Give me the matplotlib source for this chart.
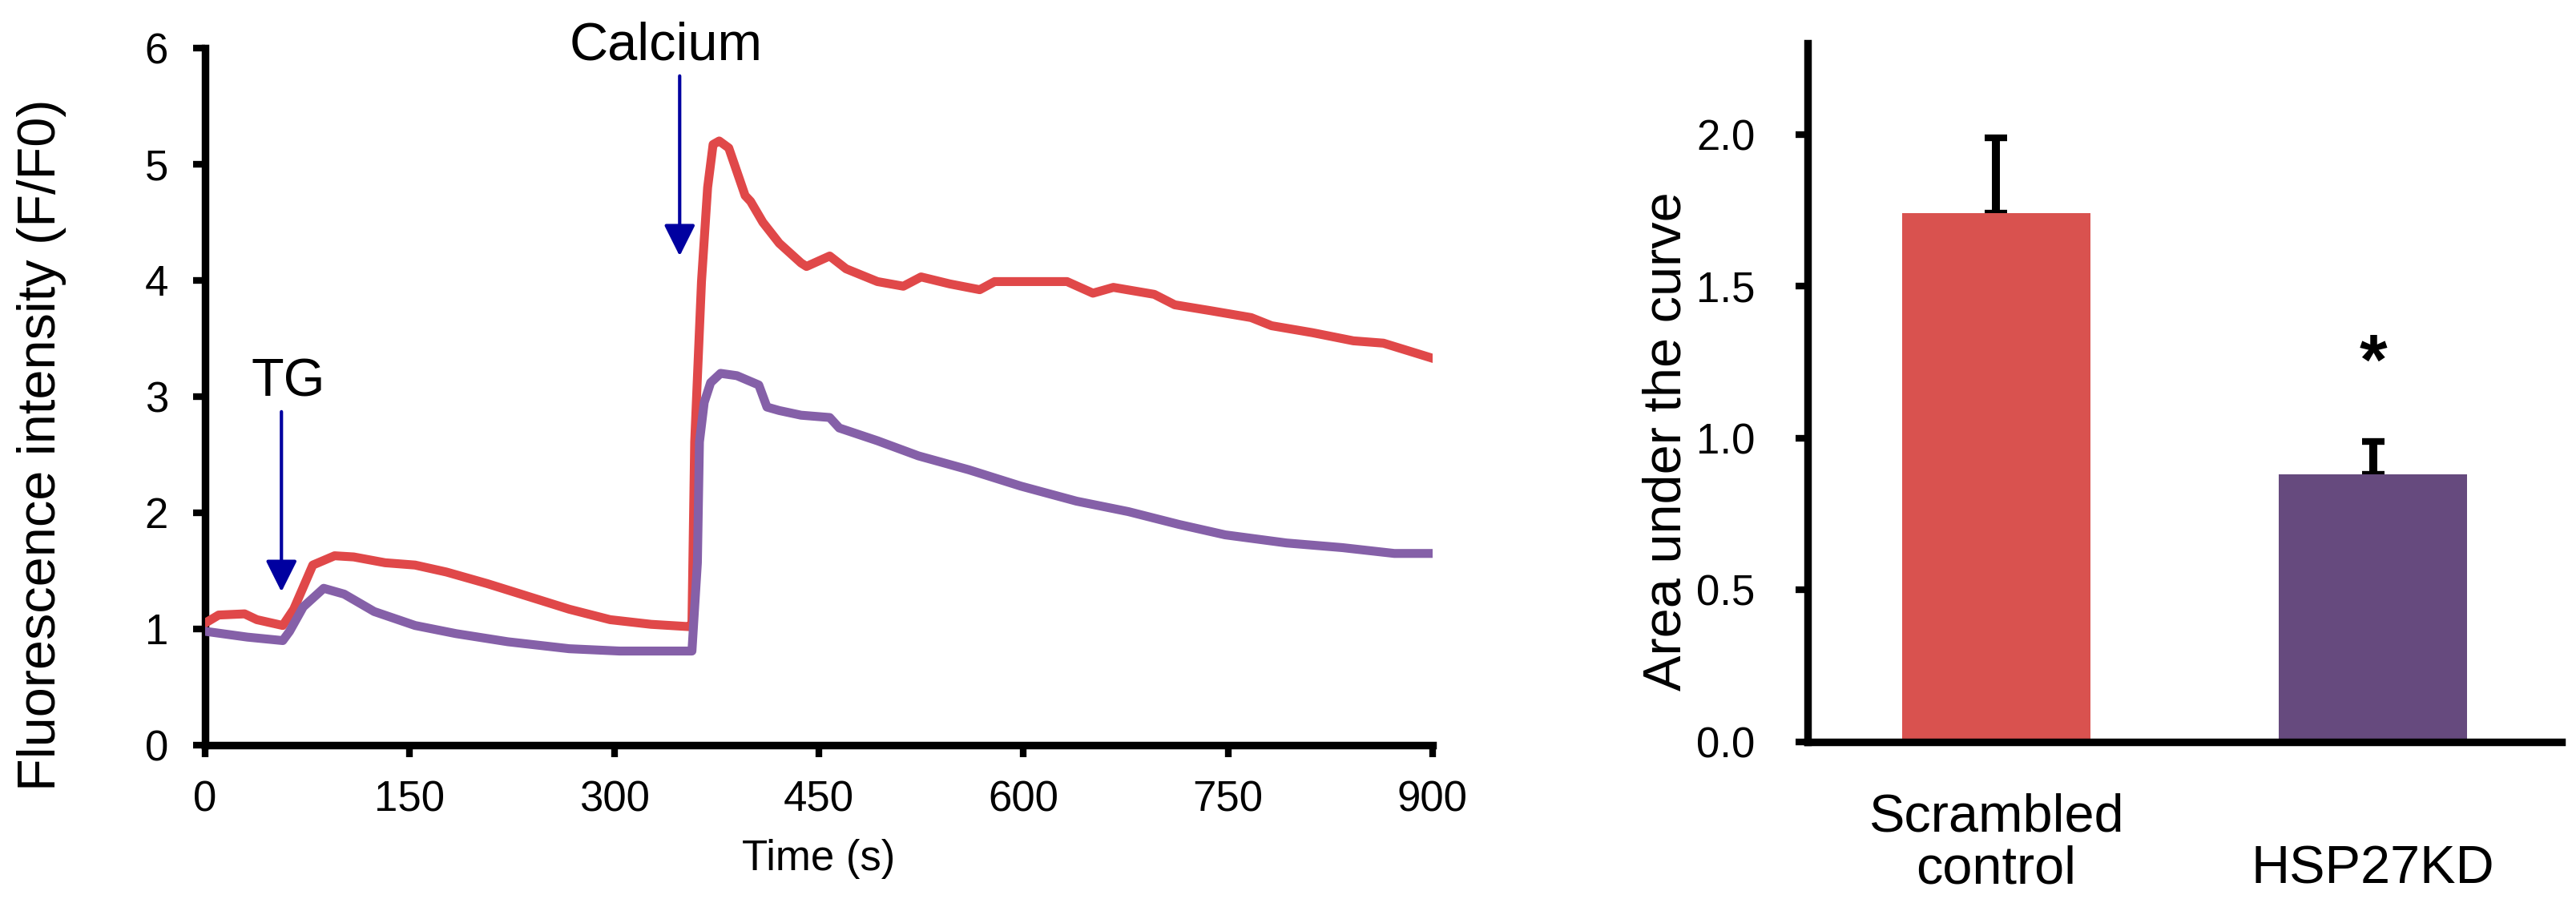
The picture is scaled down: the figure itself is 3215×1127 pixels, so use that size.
import matplotlib
matplotlib.use("Agg")
import matplotlib.pyplot as plt

plt.rcParams['font.family'] = ['Liberation Sans', 'DejaVu Sans']

# ---- time course data ----
time_scr = [0, 10, 29, 38, 57, 65, 79, 95, 109, 132, 154, 177, 207, 237, 267, 297, 327, 355, 357,
            359, 364, 368.5, 372.5, 377, 384, 396, 400, 409, 421, 437, 441, 458, 470, 493, 512, 525,
            546, 568, 579, 632, 651, 666, 696, 711, 737, 767, 782, 812, 842, 864, 900]
f_scr = [1.05, 1.12, 1.13, 1.08, 1.03, 1.17, 1.55, 1.63, 1.62, 1.57, 1.55, 1.49, 1.39, 1.28, 1.17,
         1.08, 1.04, 1.02, 1.05, 2.61, 3.99, 4.80, 5.17, 5.20, 5.14, 4.73, 4.68, 4.50, 4.32, 4.15,
         4.12, 4.21, 4.10, 3.99, 3.95, 4.03, 3.97, 3.92, 3.99, 3.99, 3.89, 3.94, 3.88, 3.79, 3.74,
         3.68, 3.61, 3.55, 3.48, 3.46, 3.33]

time_kd = [0, 31, 57, 62, 72, 87, 102, 124, 154, 184, 222, 267, 304, 357, 361, 362.5, 366, 370.7,
           378, 390, 406, 412, 421, 437, 458, 465, 493, 523, 560, 598, 639, 677, 714, 748, 793,
           834, 872, 900]
f_kd = [0.98, 0.93, 0.90, 0.98, 1.19, 1.35, 1.30, 1.15, 1.03, 0.96, 0.89, 0.83, 0.81, 0.81, 1.57,
        2.61, 2.95, 3.12, 3.20, 3.18, 3.10, 2.91, 2.88, 2.84, 2.82, 2.73, 2.62, 2.49, 2.37, 2.23,
        2.10, 2.01, 1.90, 1.81, 1.74, 1.70, 1.65, 1.65]

x_ticks = [0, 150, 300, 450, 600, 750, 900]
y_ticks_left = [0, 1, 2, 3, 4, 5, 6]

# annotations: (label, time, arrow start, arrow tip, text baseline y)
annot_labels = ["TG", "Calcium"]
annot_time = [56, 348]
annot_text_time = [61, 338]
annot_start = [2.87, 5.76]
annot_tip = [1.32, 4.21]
annot_text_y = [3.0, 5.90]

# ---- bar data ----
groups = ["Scrambled\ncontrol", "HSP27KD"]
auc = [1.74, 0.88]
auc_err = [0.25, 0.11]
y_ticks_right = [0.0, 0.5, 1.0, 1.5, 2.0]
sig_marks = ["", "*"]
sig_y = [None, 1.24]

RED_LINE = "#E04849"
PUR_LINE = "#8560A8"
RED_BAR = "#D9524F"
PUR_BAR = "#664A7E"
ARROW = "#0000A0"

fig = plt.figure(figsize=(3215 / 200, 1127 / 200), dpi=200)

# ---------------- left panel ----------------
ax1 = fig.add_axes([0.0796, 0.1748, 0.4765, 0.772])
ax1.plot(time_scr, f_scr, color=RED_LINE, lw=4.0, solid_joinstyle='round', zorder=3)
ax1.plot(time_kd, f_kd, color=PUR_LINE, lw=4.0, solid_joinstyle='round', zorder=3)
ax1.set_xlim(0, 900)
ax1.set_ylim(0, 6)
ax1.set_xticks(x_ticks)
ax1.set_yticks(y_ticks_left)
for s in ['top', 'right']:
    ax1.spines[s].set_visible(False)
for s in ['left', 'bottom']:
    ax1.spines[s].set_linewidth(3.4)
ax1.tick_params(axis='both', direction='out', length=5.5, width=3.0, labelsize=19)
ax1.tick_params(axis='y', pad=11)
ax1.tick_params(axis='x', pad=10)
ax1.set_xlabel("Time (s)", fontsize=19)
ax1.xaxis.set_label_coords(0.5, -0.135)
ax1.set_ylabel("Fluorescence intensity (F/F0)", fontsize=24)
ax1.yaxis.set_label_coords(-0.113, 0.431)

for lab, t, tt, y0, y1, ty in zip(annot_labels, annot_time, annot_text_time,
                                  annot_start, annot_tip, annot_text_y):
    ax1.annotate("", xy=(t, y1), xytext=(t, y0),
                 arrowprops=dict(arrowstyle='-|>', color=ARROW, lw=1.5,
                                 mutation_scale=30, shrinkA=0, shrinkB=0),
                 annotation_clip=False)
    ax1.text(tt, ty, lab, fontsize=24, ha='center', va='baseline', clip_on=False)

# ---------------- right panel ----------------
ax2 = fig.add_axes([0.7017, 0.1783, 0.2927, 0.7737])
xpos = list(range(len(groups)))
ax2.bar(xpos, auc, width=0.5, color=[RED_BAR, PUR_BAR], zorder=2)
ax2.errorbar(xpos, auc, yerr=[[0] * len(auc_err), auc_err], fmt='none',
             ecolor='black', elinewidth=3.6, capsize=5, capthick=3.0, zorder=1)
ax2.set_xlim(-0.5, 1.5)
ax2.set_ylim(0, 2.3)
ax2.set_yticks(y_ticks_right)
ax2.set_yticklabels([f"{v:.1f}" for v in y_ticks_right])
ax2.set_xticks([])
for s in ['top', 'right']:
    ax2.spines[s].set_visible(False)
for s in ['left', 'bottom']:
    ax2.spines[s].set_linewidth(3.4)
ax2.tick_params(axis='y', direction='out', length=5.5, width=3.0, labelsize=19, pad=18)
ax2.set_ylabel("Area under the curve", fontsize=24)
ax2.yaxis.set_label_coords(-0.153, 0.43)
for x, g in zip(xpos, groups):
    ax2.text(x, -0.218, g, transform=ax2.get_xaxis_transform(), fontsize=24,
             ha='center', va='bottom', linespacing=1.05)
for x, m, y in zip(xpos, sig_marks, sig_y):
    if m:
        ax2.text(x, y, m, fontsize=32, fontweight='bold', ha='center', va='center')

fig.savefig("out.png", dpi=200)
